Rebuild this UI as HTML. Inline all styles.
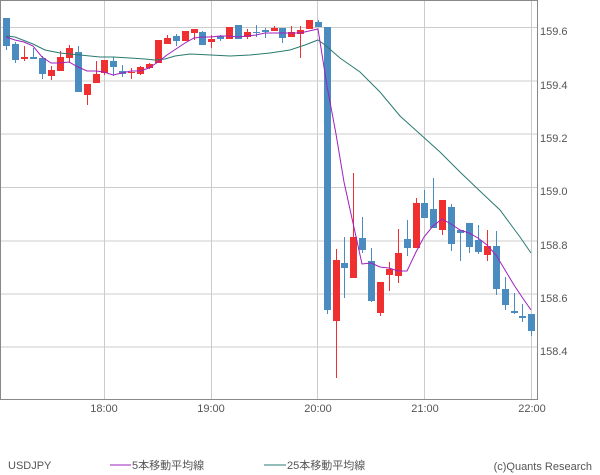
<!DOCTYPE html>
<html><head><meta charset="utf-8"><style>
body{margin:0;background:#fff;width:600px;height:475px;overflow:hidden}
svg{display:block}
text{font-family:"Liberation Sans","Noto Sans CJK JP",sans-serif;font-size:11px;fill:#555}
</style></head><body>
<svg width="600" height="475" xmlns="http://www.w3.org/2000/svg">
<g stroke="#ccc" stroke-width="1">
<line x1="1" y1="27.5" x2="537" y2="27.5"/><line x1="1" y1="81" x2="537" y2="81"/><line x1="1" y1="134" x2="537" y2="134"/><line x1="1" y1="187.5" x2="537" y2="187.5"/><line x1="1" y1="241" x2="537" y2="241"/><line x1="1" y1="294" x2="537" y2="294"/><line x1="1" y1="347" x2="537" y2="347"/>
<line x1="104.5" y1="1" x2="104.5" y2="399"/><line x1="211.5" y1="1" x2="211.5" y2="399"/><line x1="317.5" y1="1" x2="317.5" y2="399"/><line x1="424.5" y1="1" x2="424.5" y2="399"/><line x1="531.5" y1="1" x2="531.5" y2="399"/>
</g>
<rect x="0.5" y="0.5" width="537" height="399" fill="none" stroke="#888"/>
<g id="c"></g>
<polyline fill="none" stroke="#2a7a70" stroke-width="1" points="6,36 15,37 33,44 45,50 60,53 80,55 100,57 113,57 130,58 145,59 155,60 165,59 175,56 190,54 211,55 230,56 250,55 270,53 290,50 305,45 318,40 325,45 340,58 360,72 380,92 400,116 420,134 440,152 448,160 460,172 482,193 500,210 520,237 531,253"/>
<polyline fill="none" stroke="#a020c0" stroke-width="1" points="6,37 15,40 24,42 33,46 42,57 51,63 60,63 69,62 78,67 87,71 96,71 104,72 113,75 122,73 131,71 140,71 149,68 158,62 167,55 176,49 185,43 194,38 202,37 211,37 220,36 229,36 238,37 247,36 256,35 265,33 274,33 282,33 291,33 300,33 309,31 318,29 327,86 336,134 344,182 353,223 362,264 371,263 380,267 389,268 398,271 407,271 416,252 424,237 433,226 442,219 451,224 460,230 469,233 478,238 487,245 496,255 505,270 514,285 522,297 531,310"/>
<g text-anchor="start">
<text x="540" y="35">159.6</text><text x="540" y="89">159.4</text><text x="540" y="142">159.2</text><text x="540" y="195">159.0</text><text x="540" y="249">158.8</text><text x="540" y="302">158.6</text><text x="540" y="355">158.4</text>
</g>
<g text-anchor="middle">
<text x="104" y="412">18:00</text><text x="211" y="412">19:00</text><text x="318" y="412">20:00</text><text x="425" y="412">21:00</text><text x="532" y="412">22:00</text>
</g>
<text x="8" y="469">USDJPY</text>
<line x1="110" y1="465" x2="131" y2="465" stroke="#a020c0"/>
<text x="132" y="469">5本移動平均線</text>
<line x1="264" y1="465" x2="286" y2="465" stroke="#2a7a70"/>
<text x="287" y="469">25本移動平均線</text>
<text x="592" y="470" text-anchor="end">(c)Quants Research</text>
</svg>
<script>
var d=[[6,'b',18,46,18,50],[15,'b',44,60,42,63],[24,'r',57,59,46,61],[33,'b',57,59,48,59],[42,'b',58,74,56,79],[51,'r',70,76,66,80],[60,'r',57,71,51,71],[69,'r',48,58,45,63],[78,'b',52,92,46,92],[87,'r',84,95,84,105],[96,'r',74,83,61,83],[104,'r',60,73,60,75],[113,'b',61,67,57,76],[122,'b',71,74,65,77],[131,'r',72,73,68,79],[140,'r',67,74,66,75],[149,'r',64,68,63,69],[158,'r',40,63,40,63],[167,'r',38,44,35,44],[176,'b',36,41,34,46],[185,'r',31,41,31,41],[194,'r',29,33,29,40],[202,'b',32,45,31,45],[211,'r',39,42,35,48],[220,'b',36,39,35,41],[229,'r',27,39,27,39],[238,'b',25,39,25,39],[247,'r',32,37,29,39],[256,'b',32,33,25,37],[265,'b',30,32,28,38],[274,'r',28,31,26,31],[282,'b',28,38,28,43],[291,'r',32,37,26,37],[300,'r',30,34,26,58],[309,'r',20,29,20,29],[318,'b',22,27,20,27],[327,'b',27,310,27,314],[336,'r',260,321,249,378],[344,'b',263,268,237,298],[353,'r',237,278,173,278],[362,'b',238,250,217,253],[371,'b',261,301,248,302],[380,'r',282,313,282,316],[389,'r',269,275,262,291],[398,'r',253,276,229,283],[407,'b',239,248,220,256],[416,'r',203,248,198,248],[424,'b',203,218,190,218],[433,'b',209,228,178,228],[442,'r',200,230,200,235],[451,'b',207,244,204,251],[460,'b',230,233,230,261],[469,'b',223,247,223,253],[478,'b',240,252,225,254],[487,'r',246,255,230,261],[496,'b',246,289,231,295],[505,'b',289,305,277,310],[514,'b',311,313,293,314],[522,'b',316,318,304,322],[531,'b',314,331,314,336]];
var s='';d.forEach(function(c){var col=c[1]=='b'?'#4a8bc0':'#f03030';s+='<line x1="'+(c[0]+.5)+'" y1="'+c[4]+'" x2="'+(c[0]+.5)+'" y2="'+c[5]+'" stroke="'+col+'"/><rect x="'+(c[0]-3)+'" y="'+c[2]+'" width="7" height="'+Math.max(1,c[3]-c[2])+'" fill="'+col+'"/>';});
document.getElementById('c').innerHTML=s;
</script>
</body></html>
